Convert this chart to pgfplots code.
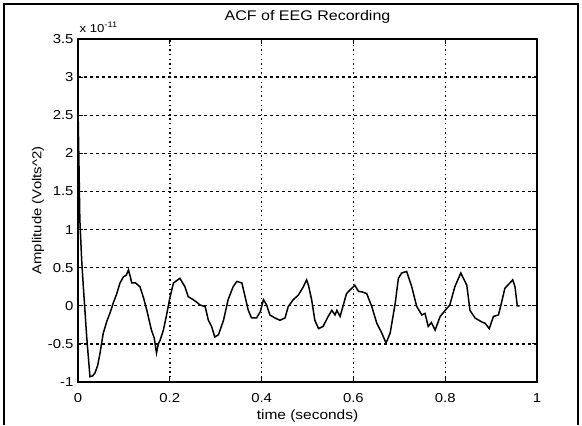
\documentclass[border=0pt]{standalone}
\usepackage{fontspec}
\setmainfont[FakeStretch=1.15]{Liberation Sans}
\usepackage{pgfplots}
\pgfplotsset{compat=1.18}
\pgfplotstableread{
t v
0 2.6
0.002 1.9
0.004 1.13
0.008 0.6
0.0116 0.25
0.019 -0.41
0.026 -0.93
0.032 -0.92
0.037 -0.88
0.043 -0.78
0.048 -0.62
0.055 -0.36
0.063 -0.2
0.070 -0.09
0.077 0.04
0.084 0.15
0.0915 0.30
0.099 0.38
0.105 0.40
0.110 0.47
0.114 0.38
0.117 0.30
0.125 0.30
0.135 0.25
0.143 0.10
0.150 -0.06
0.160 -0.32
0.166 -0.42
0.171 -0.62
0.175 -0.5
0.179 -0.45
0.186 -0.32
0.193 -0.12
0.200 0.10
0.208 0.30
0.215 0.33
0.222 0.36
0.233 0.25
0.240 0.12
0.251 0.08
0.258 0.05
0.266 0.01
0.277 -0.01
0.284 -0.19
0.291 -0.27
0.298 -0.41
0.306 -0.38
0.317 -0.19
0.327 0.08
0.338 0.25
0.346 0.32
0.357 0.30
0.364 0.12
0.371 -0.06
0.378 -0.16
0.389 -0.16
0.397 -0.08
0.404 0.08
0.411 0.01
0.418 -0.12
0.429 -0.16
0.440 -0.19
0.451 -0.16
0.458 -0.01
0.469 0.08
0.480 0.14
0.491 0.25
0.498 0.34
0.502 0.27
0.509 0.08
0.516 -0.19
0.524 -0.30
0.534 -0.27
0.545 -0.14
0.553 -0.06
0.560 -0.12
0.564 -0.06
0.571 -0.14
0.578 0.01
0.585 0.16
0.593 0.21
0.600 0.25
0.603 0.27
0.611 0.19
0.620 0.18
0.629 0.16
0.640 -0.01
0.651 -0.23
0.662 -0.36
0.671 -0.49
0.680 -0.36
0.691 0.03
0.698 0.36
0.705 0.43
0.716 0.45
0.727 0.25
0.738 -0.01
0.749 -0.12
0.756 -0.10
0.763 -0.27
0.770 -0.22
0.778 -0.32
0.789 -0.14
0.800 -0.06
0.810 0.01
0.821 0.25
0.834 0.43
0.847 0.27
0.854 -0.06
0.865 -0.16
0.879 -0.21
0.887 -0.23
0.896 -0.30
0.905 -0.14
0.916 -0.12
0.923 0.05
0.930 0.23
0.941 0.30
0.947 0.34
0.952 0.25
0.957 0.0
0.962 0.0
}\acf
\begin{document}
\begin{tikzpicture}[x=1bp,y=1bp]
\path[use as bounding box] (0,0) rectangle (582,425);
\draw[line width=1.3bp] (4,0) -- (4,421) -- (578,421) -- (578,0);
\begin{axis}[
  at={(78bp,43bp)}, anchor=south west,
  scale only axis, width=459bp, height=343bp,
  xmin=0, xmax=1, ymin=-1, ymax=3.5,
  xtick={0,0.2,0.4,0.6,0.8,1},
  xticklabels={0,0.2,0.4,0.6,0.8,1},
  ytick={-1,-0.5,0,0.5,1,1.5,2,2.5,3,3.5},
  yticklabels={-1,-0.5,0,0.5,1,1.5,2,2.5,3,3.5},
  tick align=inside, tick pos=both, major tick length=5bp,
  axis line style={line width=1.6bp},
  every tick/.style={black, line width=1bp},
  grid=major,
  x grid style={black, line width=1.4bp, dash pattern=on 1.4bp off 3.2bp},
  y grid style={black, line width=1.3bp, dash pattern=on 3bp off 3bp},
  tick label style={font=\fontsize{13}{15}\selectfont},
  xticklabel style={anchor=base, yshift=-20bp},
  yticklabel style={anchor=east, xshift=-1bp},
  title={ACF of EEG Recording},
  title style={at={(rel axis cs:0.5,1.0525)}, anchor=base, yshift=-6pt, font=\fontsize{14}{16}\selectfont},
  xlabel={time (seconds)},
  xlabel style={at={(rel axis cs:0.5,-0.11)}, anchor=base, font=\fontsize{13.5}{16}\selectfont},
  ylabel={Amplitude (Volts\^{}2)},
  ylabel style={at={(rel axis cs:-0.087,0.5)}, anchor=center, font=\fontsize{13}{15}\selectfont},
  clip=false,
]
\addplot[black, line width=1.5bp] table[x=t, y=v] {\acf};
\node[anchor=base west, inner sep=0pt, font=\fontsize{11.5}{13}\selectfont] at (rel axis cs:0.003,1.02) {x 10\textsuperscript{-11}};
\end{axis}
\end{tikzpicture}
\end{document}
